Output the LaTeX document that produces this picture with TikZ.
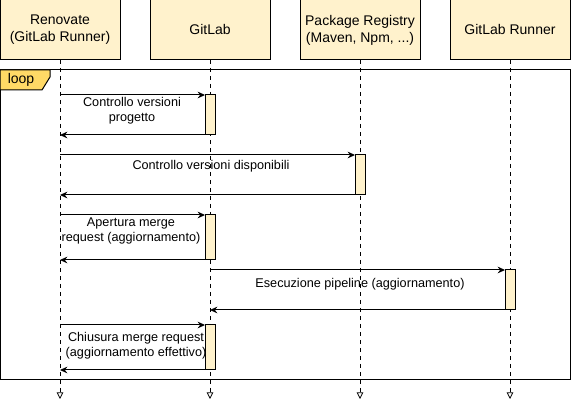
\documentclass[tikz,border=0pt]{standalone}
\usepackage{fontspec}
\setmainfont{Liberation Sans}
\usetikzlibrary{arrows.meta}

\definecolor{hdrfill}{HTML}{FFF2CC}
\definecolor{loopfill}{HTML}{FFD966}

\tikzset{
  actor/.style={draw, line width=0.75pt, fill=hdrfill, minimum width=90pt, minimum height=45pt,
    inner sep=0pt, outer sep=0pt, align=center, font=\fontsize{10.5}{12.75}\selectfont},
  actbar/.style={draw, line width=0.75pt, fill=hdrfill, minimum width=7.5pt,
    inner sep=0pt, outer sep=0pt, anchor=north west},
  lifeline/.style={dashed, line width=0.6pt, -{Triangle[open, length=5pt, width=5pt]}},
  msg/.style={line width=0.75pt, -{Stealth[length=5.5pt, width=5pt]}},
  msgtext/.style={font=\fontsize{9.5}{11.25}\selectfont, align=center},
}

\begin{document}
\begin{tikzpicture}[x=0.75pt,y=0.75pt,yscale=-1,xscale=1]
\useasboundingbox (0,0) rectangle (571,409);

% Actors
\node[actor] (renovate) at (60,30) {Renovate\\(GitLab Runner)};
\node[actor] (gitlab) at (210,30) {GitLab};
\node[actor] (registry) at (360,30) {Package Registry\\(Maven, Npm, ...)};
\node[actor] (runner) at (510,30) {GitLab Runner};

% Lifelines
\coordinate (renovate end) at (60,399);
\coordinate (gitlab end) at (210,399);
\coordinate (registry end) at (360,399);
\coordinate (runner end) at (510,399);
\draw[lifeline] (renovate) -- (renovate end);
\draw[lifeline] (gitlab) -- (gitlab end);
\draw[lifeline] (registry) -- (registry end);
\draw[lifeline] (runner) -- (runner end);

% Loop frame
\draw[line width=0.75pt] (0,70) rectangle (570,380);
\draw[line width=0.75pt, fill=loopfill] (0,70) -- (50,70) -- (50,77) -- (42,90) -- (0,90) -- cycle;
\node[font=\fontsize{10.5}{12}\selectfont] (looplabel) at (21,80) {loop};

% Activations
\node[actbar, minimum height=30pt] (bar1) at (205,95) {};
\node[actbar, minimum height=30pt] (bar2) at (355,155) {};
\node[actbar, minimum height=33.75pt] (bar3) at (205,215) {};
\node[actbar, minimum height=30pt] (bar4) at (505,270) {};
\node[actbar, minimum height=33.75pt] (bar5) at (205,325) {};

% Messages
\draw[msg] (renovate.south |- bar1.north west) -- (bar1.north west);
\draw[msg] (bar1.south west) -- (renovate.south |- bar1.south west);
\draw[msg] (renovate.south |- bar2.north west) -- (bar2.north west);
\draw[msg] (bar2.south west) -- (renovate.south |- bar2.south west);
\draw[msg] (renovate.south |- bar3.north west) -- (bar3.north west);
\draw[msg] (bar3.south west) -- (renovate.south |- bar3.south west);
\draw[msg] (gitlab.south |- bar4.north west) -- (bar4.north west);
\draw[msg] (bar4.south west) -- (gitlab.south |- bar4.south west);
\draw[msg] (renovate.south |- bar5.north west) -- (bar5.north west);
\draw[msg] (bar5.south west) -- (renovate.south |- bar5.south west);

% Message labels
\node[msgtext] (t1) at (132,111) {Controllo versioni\\progetto};
\node[msgtext] (t2) at (211,166) {Controllo versioni disponibili};
\node[msgtext] (t3) at (131,230.5) {Apertura merge\\request (aggiornamento)};
\node[msgtext] (t4) at (360,284) {Esecuzione pipeline (aggiornamento)};
\node[msgtext] (t5) at (136,345.5) {Chiusura merge request\\(aggiornamento effettivo)};

\end{tikzpicture}
\end{document}
